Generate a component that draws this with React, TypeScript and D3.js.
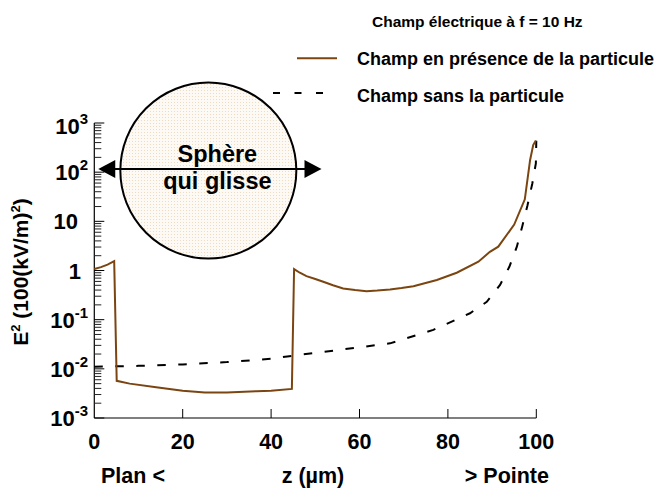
import React from 'react';
import * as d3 from 'd3';

// Champ en présence de la particule (E², 100 (kV/m)²) vs z (µm)
const zWith = [0, 1.5, 3, 4.5, 5.07, 8, 14, 20, 25, 30, 36.7, 40, 44.7, 45.2, 46.5, 48, 50, 51.8, 54, 56.3, 59, 61.6, 64, 66.9, 69.5, 72.2, 77.5, 82, 86.9, 89.5, 91.4, 95, 97.4, 98.6, 99.3, 99.9];
const eWith = [1.07, 1.17, 1.32, 1.55, 0.0057, 0.005, 0.0042, 0.0036, 0.0033, 0.0033, 0.0035, 0.0036, 0.0039, 1.07, 0.9, 0.77, 0.67, 0.59, 0.5, 0.43, 0.4, 0.38, 0.39, 0.41, 0.44, 0.48, 0.64, 0.9, 1.51, 2.4, 3.05, 8.6, 28, 177, 355, 440];

// Champ sans la particule
const zWithout = [0, 10, 20, 30, 40, 45.8, 55, 66.9, 76.7, 85, 88.8, 91.8, 93.9, 95.6, 96.8, 98, 99.1, 99.9, 100];
const eWithout = [0.011, 0.0115, 0.0123, 0.0137, 0.016, 0.019, 0.024, 0.033, 0.062, 0.135, 0.23, 0.51, 1.19, 3.05, 7.8, 21, 59, 151, 436];

const xTicks = [0, 20, 40, 60, 80, 100];
const yDecades = [-3, -2, -1, 0, 1, 2, 3];
const legendTitle = 'Champ électrique à f = 10 Hz';
const seriesNames = ['Champ en présence de la particule', 'Champ sans la particule'];
const xAxisLeft = 'Plan <';
const xAxisMid = 'z (µm)';
const xAxisRight = '> Pointe';
const sphereText = ['Sphère', 'qui glisse'];

// sphere annotation in data coordinates
const sphereZ = 25.8;
const sphereE = 108;
const arrowZ = [0.9, 51.4];

const FONT = "'Liberation Sans', Arial, Helvetica, sans-serif";
const BROWN = '#7a4511';

export default function App() {
  const W = 656, H = 490;
  const x = d3.scaleLinear().domain([0, 100]).range([94.3, 536.3]);
  const y = d3.scaleLog().domain([1e-3, 1e3]).range([418, 123]);
  const line = d3.line<[number, number]>().x(d => x(d[0])).y(d => y(d[1]));
  const withPts = zWith.map((z, i) => [z, eWith[i]] as [number, number]);
  const withoutPts = zWithout.map((z, i) => [z, eWithout[i]] as [number, number]);

  const minor: number[] = [];
  for (let n = -3; n < 3; n++) for (let k = 2; k <= 9; k++) minor.push(k * Math.pow(10, n));

  const x0 = x(0), yBot = y(1e-3), yTop = y(1e3);
  const cx = x(sphereZ), cy = y(sphereE);
  const ax1 = x(arrowZ[0]), ax2 = x(arrowZ[1]);

  return (
    <svg width={W} height={H} style={{ position: 'absolute', left: 0, top: 0, background: '#fff' }}
      fontFamily={FONT} fontWeight="bold">
      <defs>
        <pattern id="dots" width="3" height="3" patternUnits="userSpaceOnUse">
          <rect width="3" height="3" fill="#fdfaf5" />
          <rect width="1" height="1" fill="#efdcc0" />
        </pattern>
      </defs>

      {/* axes */}
      <line x1={x0} x2={x0} y1={yTop} y2={yBot} stroke="#000" strokeWidth={1.2} />
      <line x1={x0} x2={x(100)} y1={yBot} y2={yBot} stroke="#000" strokeWidth={1.2} />
      {minor.map((v, i) => (
        <line key={'m' + i} x1={x0} x2={x0 + 7} y1={y(v)} y2={y(v)} stroke="#222" strokeWidth={1} />
      ))}
      {yDecades.map(n => (
        <line key={'M' + n} x1={x0} x2={x0 + 10} y1={y(Math.pow(10, n))} y2={y(Math.pow(10, n))} stroke="#000" strokeWidth={1} />
      ))}
      {xTicks.filter(t => t > 0).map(t => (
        <line key={'xt' + t} x1={x(t)} x2={x(t)} y1={yBot} y2={yBot - 9} stroke="#000" strokeWidth={1} />
      ))}

      {/* y tick labels */}
      {yDecades.map(n => {
        const yy = y(Math.pow(10, n)) + 8 + (n === 3 ? 3 : 0);
        if (n === 0) return <text key={'yl' + n} x={81} y={yy} textAnchor="end" fontSize={22}>1</text>;
        if (n === 1) return <text key={'yl' + n} x={78} y={yy} textAnchor="end" fontSize={22}>10</text>;
        return (
          <text key={'yl' + n} x={88} y={yy} textAnchor="end" fontSize={22}>
            10<tspan fontSize={15} dy={-10}>{String(n)}</tspan>
          </text>
        );
      })}

      {/* x tick labels */}
      {xTicks.map(t => (
        <text key={'xl' + t} x={x(t)} y={449} textAnchor="middle" fontSize={21.5}>{String(t)}</text>
      ))}

      {/* x axis titles */}
      <text x={101} y={483} fontSize={21.5}>{xAxisLeft}</text>
      <text x={313} y={483} fontSize={21.5} textAnchor="middle">{xAxisMid}</text>
      <text x={549} y={483} fontSize={21.5} textAnchor="end">{xAxisRight}</text>

      {/* y axis title */}
      <text transform="translate(28,272) rotate(-90)" textAnchor="middle" fontSize={21}>
        E<tspan fontSize={13} dy={-8}>2</tspan><tspan dy={8}> (100(kV/m)</tspan><tspan fontSize={13} dy={-8}>2</tspan><tspan dy={8}>)</tspan>
      </text>

      {/* series */}
      <path d={line(withoutPts) || ''} fill="none" stroke="#000" strokeWidth={2} strokeDasharray="8.5,12.5" />
      <path d={line(withPts) || ''} fill="none" stroke={BROWN} strokeWidth={2} />

      {/* sphere annotation */}
      <circle cx={cx} cy={cy} r={88} fill="url(#dots)" stroke="#000" strokeWidth={2} />
      <line x1={ax1 + 15} x2={ax2 - 15} y1={cy - 1.5} y2={cy - 1.5} stroke="#000" strokeWidth={2} />
      <path d={`M${ax1},${cy - 1.5} L${ax1 + 17},${cy - 10.5} L${ax1 + 17},${cy + 7.5} Z`} fill="#000" />
      <path d={`M${ax2},${cy - 1.5} L${ax2 - 17},${cy - 10.5} L${ax2 - 17},${cy + 7.5} Z`} fill="#000" />
      <text x={cx + 9} y={162} textAnchor="middle" fontSize={23.5}>{sphereText[0]}</text>
      <text x={cx + 9} y={189} textAnchor="middle" fontSize={23.5}>{sphereText[1]}</text>

      {/* legend */}
      <text x={372} y={27} fontSize={15.5}>{legendTitle}</text>
      <line x1={297} x2={337} y1={58.3} y2={58.3} stroke={BROWN} strokeWidth={2} />
      <text x={357} y={65} fontSize={18}>{seriesNames[0]}</text>
      <line x1={273} x2={324} y1={93} y2={93} stroke="#000" strokeWidth={2} strokeDasharray="7,14.5" />
      <text x={357} y={102} fontSize={18}>{seriesNames[1]}</text>
    </svg>
  );
}
